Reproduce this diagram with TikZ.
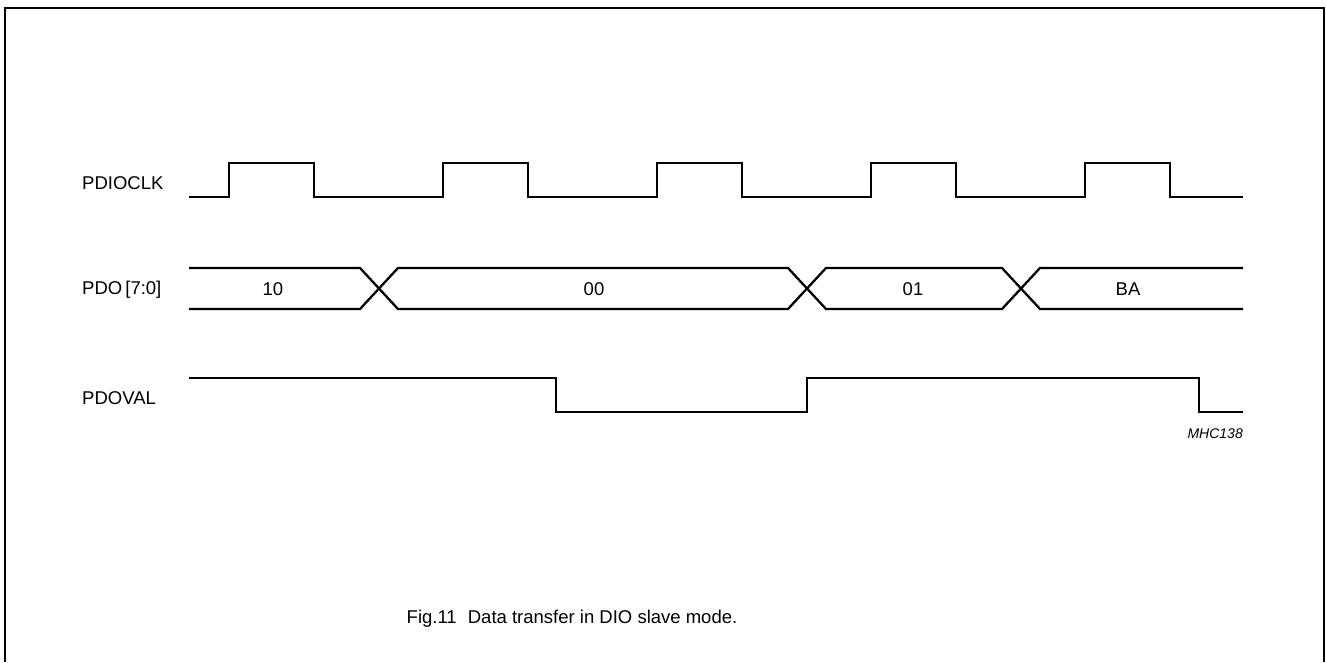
\documentclass[tikz,border=0pt]{standalone}
\usepackage{fontspec}
\setmainfont{Liberation Sans}
\usetikzlibrary{positioning, calc}

\tikzset{
    wave/.style={line width=2.3pt, line join=miter},
    signame/.style={anchor=west, inner sep=0pt, font=\fontsize{18.5}{20}\selectfont},
    busval/.style={inner sep=0pt, font=\fontsize{18.5}{20}\selectfont},
}

\begin{document}
\begin{tikzpicture}[x=1pt, y=-1pt]
    \useasboundingbox (0,0) rectangle (1326,662);
    % frame
    \draw[line width=2pt] (5,662) -- (5,8) -- (1324,8) -- (1324,662);

    % signal names
    \node[signame] (clkname) at (82,183) {PDIOCLK};
    \node[signame] (pdoname) at (82,290) {PDO\,[7:0]};
    \node[signame] (valname) at (82,398) {PDOVAL};

    % PDIOCLK
    \draw[wave] (189,197) -- (229,197) -- (229,163) -- (314,163) -- (314,197)
                -- (443,197) -- (443,163) -- (528,163) -- (528,197)
                -- (657,197) -- (657,163) -- (742,163) -- (742,197)
                -- (871,197) -- (871,163) -- (956,163) -- (956,197)
                -- (1085,197) -- (1085,163) -- (1170,163) -- (1170,197)
                -- (1243,197);

    % PDO[7:0]
    \draw[wave] (189,268) -- (360,268) -- (398,309) -- (788,309) -- (826,268)
                -- (1002,268) -- (1040,309) -- (1243,309);
    \draw[wave] (189,309) -- (360,309) -- (398,268) -- (788,268) -- (826,309)
                -- (1002,309) -- (1040,268) -- (1243,268);
    \node[busval] (d10) at (273,289) {10};
    \node[busval] (d00) at (594,289) {00};
    \node[busval] (d01) at (913,289) {01};
    \node[busval] (dba) at (1128,289) {BA};

    % PDOVAL
    \draw[wave] (189,378) -- (556,378) -- (556,412) -- (807,412) -- (807,378)
                -- (1199,378) -- (1199,412) -- (1243,412);

    \node[anchor=east, inner sep=0pt, font=\fontsize{14}{16}\selectfont\itshape] (code) at (1243,434) {MHC138};

    % caption
    \node[busval] (caption) at (572,619) {Fig.11\hspace{0.6em}Data transfer in DIO slave mode.};
\end{tikzpicture}
\end{document}
